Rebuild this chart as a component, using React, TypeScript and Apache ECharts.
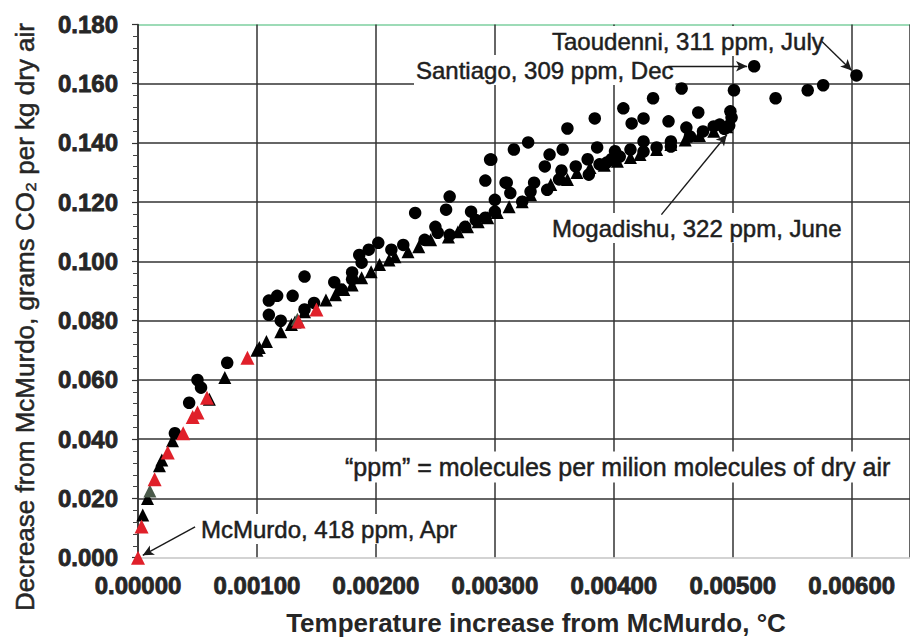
import React, { useEffect, useRef } from "react";
import * as echarts from "echarts";

// x: temperature increase from McMurdo (°C), y: decrease in CO2 (g per kg dry air)
const redTriangles: number[][] = [
  [0, 0], [0.00003, 0.0105], [0.00014, 0.0265], [0.00025, 0.0355], [0.00038, 0.042],
  [0.00046, 0.0475], [0.0005, 0.049], [0.00058, 0.054], [0.00092, 0.0675],
  [0.00135, 0.0797], [0.0015, 0.0838],
];

const grayTriangles: number[][] = [[0.0001, 0.0225], [0.00134, 0.0805]];

const blackTriangles: number[][] = [
  [0.00004, 0.0144], [0.00008, 0.02], [0.00018, 0.031], [0.0002, 0.033], [0.00029, 0.0395],
  [0.0006, 0.0535], [0.00073, 0.0608], [0.001, 0.07], [0.00102, 0.071], [0.00108, 0.073],
  [0.0012, 0.0763], [0.00129, 0.0787], [0.00132, 0.0796], [0.0014, 0.083], [0.00158, 0.087],
  [0.00166, 0.0888], [0.00173, 0.0905], [0.0018, 0.0921], [0.00188, 0.0945], [0.00196, 0.0965],
  [0.00203, 0.099], [0.00211, 0.1005], [0.00216, 0.1016], [0.00227, 0.1033], [0.00236, 0.105],
  [0.00246, 0.1073], [0.00261, 0.1083], [0.00269, 0.11], [0.00277, 0.1117], [0.00286, 0.1134],
  [0.00294, 0.1148], [0.00302, 0.1165], [0.00312, 0.1185], [0.00323, 0.1202], [0.0033, 0.1225],
  [0.00347, 0.126], [0.00361, 0.1277], [0.00369, 0.13], [0.0038, 0.1317], [0.00392, 0.1325],
  [0.00403, 0.1338], [0.00414, 0.1351], [0.00422, 0.1361], [0.00436, 0.1378], [0.00448, 0.1395],
  [0.0046, 0.141], [0.00472, 0.1425], [0.00484, 0.144], [0.00495, 0.1455],
];

const blackCircles: number[][] = [
  [0.00031, 0.042], [0.00043, 0.0523], [0.0005, 0.06], [0.00053, 0.0574], [0.00075, 0.0658],
  [0.0011, 0.082], [0.0012, 0.08], [0.0011, 0.0868], [0.00117, 0.0884], [0.0013, 0.0884],
  [0.0014, 0.0949], [0.0014, 0.0838], [0.00148, 0.086], [0.00165, 0.093], [0.00171, 0.0905],
  [0.0018, 0.0963], [0.0018, 0.094], [0.00186, 0.1022], [0.00188, 0.0996], [0.00194, 0.104],
  [0.00202, 0.1063], [0.00213, 0.104], [0.00223, 0.1056], [0.00233, 0.1164], [0.00259, 0.1175],
  [0.00262, 0.1219], [0.00241, 0.1073], [0.0025, 0.1117], [0.00252, 0.1097], [0.00262, 0.109],
  [0.00275, 0.1117], [0.0028, 0.1168], [0.00284, 0.114], [0.00292, 0.1148], [0.003, 0.1168],
  [0.00292, 0.1273], [0.00297, 0.1344], [0.00309, 0.1266], [0.00313, 0.1231], [0.003, 0.1208],
  [0.00316, 0.1378], [0.00328, 0.1402], [0.00346, 0.1361], [0.00357, 0.1378], [0.00361, 0.1449],
  [0.00384, 0.1483], [0.00386, 0.1385], [0.00408, 0.1517], [0.00415, 0.1466], [0.00425, 0.1483],
  [0.00433, 0.1551], [0.00446, 0.1473], [0.00457, 0.1584], [0.00471, 0.1503], [0.00501, 0.1578],
  [0.00498, 0.1507], [0.00499, 0.1486], [0.00497, 0.1459], [0.00484, 0.1456], [0.00475, 0.1439],
  [0.00461, 0.1452], [0.00464, 0.1422], [0.00448, 0.1405], [0.00448, 0.1388], [0.00436, 0.1385],
  [0.00425, 0.1405], [0.00425, 0.1371], [0.00414, 0.1378], [0.00405, 0.1354], [0.00394, 0.1334],
  [0.00378, 0.1345], [0.00379, 0.1293], [0.00368, 0.1321], [0.00342, 0.1321], [0.00356, 0.1307],
  [0.00344, 0.1242], [0.00323, 0.1202], [0.0033, 0.1236], [0.00354, 0.1277], [0.00333, 0.1266],
  [0.0031, 0.1266], [0.00296, 0.1344], [0.00398, 0.1345], [0.00401, 0.1372], [0.00388, 0.1328],
  [0.00518, 0.1659], [0.00604, 0.1628], [0.00536, 0.1551], [0.00563, 0.1578], [0.00576, 0.1595],
  [0.00489, 0.1462], [0.00493, 0.1448],
];

// annotation arrows: [start, end] in data coordinates
const arrows: number[][][] = [
  [[0.00575, 0.1743], [0.006, 0.1645]],
  [[0.00446, 0.1659], [0.00512, 0.1659]],
  [[0.0044, 0.1158], [0.00495, 0.1428]],
  [[0.00048, 0.0104], [0.00004, 0.0008]],
];

const xTicks = [0, 0.001, 0.002, 0.003, 0.004, 0.005, 0.006];
const yTicks = [0, 0.02, 0.04, 0.06, 0.08, 0.1, 0.12, 0.14, 0.16, 0.18];

const FONT = "'Liberation Sans', Arial, sans-serif";

export default function App() {
  const ref = useRef<HTMLDivElement>(null);
  useEffect(() => {
    if (!ref.current) return;
    const chart = echarts.init(ref.current, undefined, { renderer: "svg" });
    const grid = "#333333";
    const ySplitColors = yTicks.map((v, i) =>
      i === 0 ? "#d0d0d0" : i === yTicks.length - 1 ? "#7dcf9f" : grid
    );
    const annText = (text: string, x: number, y: number, size = 24) => ({
      type: "text",
      x,
      y,
      z: 50,
      style: {
        text,
        fontFamily: FONT,
        fontSize: size,
        fill: "#1e1e1e",
        stroke: "#1e1e1e",
        lineWidth: 0.5,
        align: "left",
        verticalAlign: "middle",
        backgroundColor: "#ffffff",
        padding: [3, 2],
      },
    });
    chart.setOption({
      animation: false,
      backgroundColor: "#ffffff",
      grid: { left: 138, top: 24.5, right: -5, bottom: 79.3, containLabel: false },
      xAxis: {
        type: "value",
        min: xTicks[0],
        max: 0.00649,
        interval: 0.001,
        axisLine: { show: true, onZero: false, lineStyle: { color: "#d0d0d0", width: 1.5 } },
        axisTick: { show: false },
        axisLabel: {
          showMaxLabel: false,
          margin: 16,
          fontFamily: FONT,
          fontWeight: "bold",
          fontSize: 24,
          color: "#262626",
          textBorderColor: "#262626",
          textBorderWidth: 0.8,
          formatter: (v: number) => v.toFixed(5),
        },
        splitLine: { show: true, lineStyle: { color: grid, width: 1.5 } },
      },
      yAxis: {
        type: "value",
        min: yTicks[0],
        max: yTicks[yTicks.length - 1],
        interval: 0.02,
        axisLine: { show: true, lineStyle: { color: grid, width: 1.5 } },
        axisTick: { show: true, inside: false, length: 6, lineStyle: { color: grid, width: 1.2 } },
        minorTick: { show: true, splitNumber: 5, length: 5, lineStyle: { color: "#444", width: 1 } },
        axisLabel: {
          margin: 20,
          fontFamily: FONT,
          fontWeight: "bold",
          fontSize: 24,
          color: "#262626",
          textBorderColor: "#262626",
          textBorderWidth: 0.8,
          formatter: (v: number) => v.toFixed(3),
        },
        splitLine: { show: true, lineStyle: { color: ySplitColors, width: 1.5 } },
      },
      graphic: [
        {
          type: "text",
          x: 25,
          y: 317,
          rotation: Math.PI / 2,
          style: {
            text: "Decrease from McMurdo, grams CO₂ per kg dry air",
            fontFamily: FONT,
            fontSize: 26,
            fill: "#262626",
            stroke: "#262626",
            lineWidth: 0.5,
            align: "center",
            verticalAlign: "middle",
          },
        },
        {
          type: "text",
          x: 536,
          y: 623,
          style: {
            text: "Temperature increase from McMurdo, °C",
            fontFamily: FONT,
            fontWeight: "bold",
            fontSize: 26,
            fill: "#262626",
            align: "center",
            verticalAlign: "middle",
          },
        },
        annText("Taoudenni, 311 ppm, July", 550, 41),
        annText("Santiago, 309 ppm, Dec", 414, 70),
        annText("Mogadishu, 322 ppm, June", 550, 228),
        annText("“ppm” = molecules per milion molecules of dry air", 343, 467, 25),
        annText("McMurdo, 418 ppm, Apr", 199, 529),
      ],
      series: [
        {
          type: "scatter",
          name: "circles",
          symbol: "circle",
          symbolSize: 12.5,
          itemStyle: { color: "#000000", opacity: 1 },
          data: blackCircles,
          z: 3,
          markLine: {
            silent: true,
            symbol: ["none", "arrow"],
            symbolSize: [8, 11],
            label: { show: false },
            lineStyle: { color: "#1a1a1a", width: 1.4, type: "solid" },
            data: arrows.map(([a, b]) => [{ coord: a }, { coord: b }]),
            z: 60,
          },
        },
        {
          type: "scatter",
          name: "triangles",
          symbol: "triangle",
          symbolSize: 13,
          itemStyle: { color: "#000000", opacity: 1 },
          data: blackTriangles,
          z: 4,
        },
        {
          type: "scatter",
          name: "gray",
          symbol: "triangle",
          symbolSize: 13,
          itemStyle: { color: "#4a5a4a", opacity: 1 },
          data: grayTriangles,
          z: 5,
        },
        {
          type: "scatter",
          name: "red",
          symbol: "triangle",
          symbolSize: 14,
          itemStyle: { color: "#e0202a", opacity: 1 },
          data: redTriangles,
          z: 6,
        },
      ],
    });
    return () => chart.dispose();
  }, []);
  return (
    <div
      ref={ref}
      style={{ position: "fixed", left: 0, top: 0, width: 910, height: 637, background: "#fff" }}
    />
  );
}
